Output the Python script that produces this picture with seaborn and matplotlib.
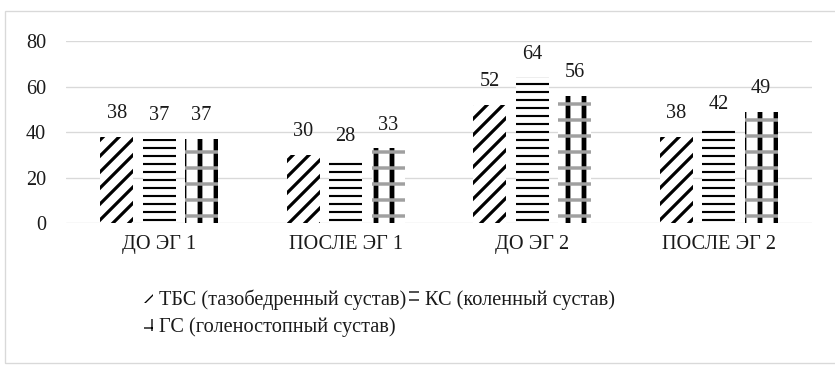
import matplotlib
matplotlib.use("Agg")
import matplotlib.pyplot as plt
import matplotlib.patches as mpatches
import seaborn as sns
import pandas as pd

categories = ["ДО ЭГ 1", "ПОСЛЕ ЭГ 1", "ДО ЭГ 2", "ПОСЛЕ ЭГ 2"]
series = ["ТБС (тазобедренный сустав)", "КС (коленный сустав)", "ГС (голеностопный сустав)"]
tbs = [38, 30, 52, 38]
ks = [37, 28, 64, 42]
gs = [37, 33, 56, 49]
yticks = [0, 20, 40, 60, 80]

rows = []
for s, vals in zip(series, [tbs, ks, gs]):
    for c, v in zip(categories, vals):
        rows.append({"cat": c, "series": s, "val": v})
df = pd.DataFrame(rows)

sns.set_theme(style="white")
plt.rcParams["font.family"] = ["Liberation Serif", "DejaVu Serif"]
FS = 15.2

DPI = 96
fig = plt.figure(figsize=(835 / DPI, 365 / DPI), dpi=DPI)
W, H = 835, 365
ax = fig.add_axes([66 / W, 1 - 223 / H, (812 - 66) / W, (223 - 41) / H])

sns.barplot(data=df, x="cat", y="val", hue="series", order=categories,
            hue_order=series, palette=["white"] * 3, width=0.68, gap=0.22,
            edgecolor="black", linewidth=0, legend=False, ax=ax)

hatch_specs = [("//", "black", 2.4), ("--", "black", 1.6), ("|", "black", 3.6)]
for cont, (h, col, lw) in zip(ax.containers, hatch_specs):
    for p in cont.patches:
        p.set_hatch(h)
        p.set_edgecolor(col)
        p.set_linewidth(0)
        if hasattr(p, "set_hatch_linewidth"):
            p.set_hatch_linewidth(lw)
# gray horizontal bands over the checkered series
for p in ax.containers[2].patches:
    ov = mpatches.Rectangle(p.get_xy(), p.get_width(), p.get_height(),
                            facecolor="none", edgecolor="#a0a0a0", linewidth=0,
                            hatch="-", zorder=p.get_zorder() + 0.1)
    if hasattr(ov, "set_hatch_linewidth"):
        ov.set_hatch_linewidth(2.6)
    ax.add_patch(ov)

for cont in ax.containers:
    ax.bar_label(cont, padding=10, fontsize=FS, color="#1a1a1a")

ax.set_ylim(0, 80)
ax.set_yticks(yticks)
ax.set_xlim(-0.5, len(categories) - 0.5)
ax.set_xlabel("")
ax.set_ylabel("")
ax.grid(axis="y", color="#d9d9d9", linewidth=1.0)
ax.set_axisbelow(True)
for sp in ax.spines.values():
    sp.set_visible(False)
ax.tick_params(axis="y", length=0, pad=15, labelsize=FS, labelcolor="#1a1a1a")
ax.tick_params(axis="x", length=0, pad=9, labelsize=FS, labelcolor="#1a1a1a")

def mk(h, col, lw):
    r = mpatches.Rectangle((0, 0), 1, 1, facecolor="white", edgecolor=col,
                           linewidth=0, hatch=h)
    if hasattr(r, "set_hatch_linewidth"):
        r.set_hatch_linewidth(lw)
    return r

handles = [mk("//", "black", 2.4), mk("+", "black", 2.4), mk("--", "black", 1.6)]
labels = [series[0], series[2], series[1]]
fig.legend(handles, labels, ncol=2, loc="upper left",
           bbox_to_anchor=(144 / W, 1 - 289 / H), frameon=False, fontsize=FS,
           handlelength=0.45, handleheight=0.55,
           handletextpad=0.3, columnspacing=0.15, labelspacing=0.4,
           borderaxespad=0, borderpad=0, labelcolor="#1a1a1a")

# outer chart border
fig.add_artist(mpatches.Rectangle((5 / W, 1 - 363 / H), (840 - 5) / W, (363 - 11) / H,
                                  transform=fig.transFigure, fill=False,
                                  edgecolor="#d9d9d9", linewidth=1.0))

fig.savefig("out.png", dpi=DPI, facecolor="white")
